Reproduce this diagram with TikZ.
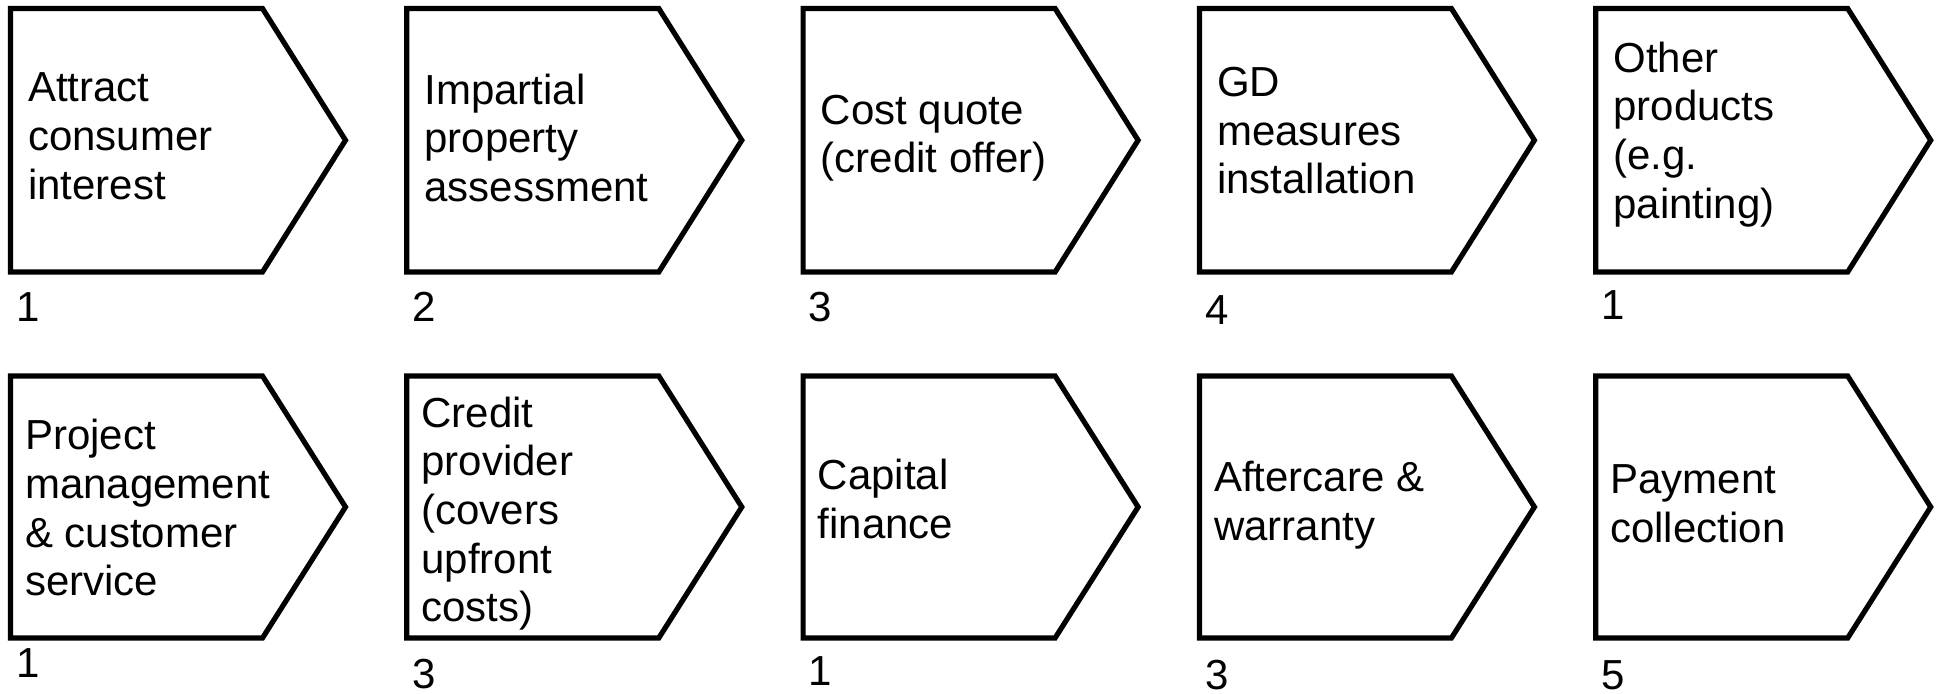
\documentclass[tikz,border=0pt]{standalone}
\usepackage{fontspec}
\setmainfont{Liberation Sans}
\begin{document}
\begin{tikzpicture}[x=0.5pt,y=-0.5pt,line width=2.6pt,
  steptext/.style={anchor=west,inner sep=0pt,align=left,font=\fontsize{21pt}{24.35pt}\selectfont},
  stepnum/.style={anchor=base west,inner sep=0pt,font=\fontsize{21pt}{24.35pt}\selectfont}]

\useasboundingbox (0,0) rectangle (1937,694);

% upper row
\foreach \i/\ty/\ny/\txt/\num in {
  1/136.2/322/{Attract\\consumer\\interest}/1,
  2/137.7/322/{Impartial\\property\\assessment}/2,
  3/138.2/322/{Cost quote\\(credit offer)}/3,
  4/130.7/325/{GD\\measures\\installation}/4,
  5/134.2/320/{Other\\products\\(e.g.\\painting)}/1}
{
  \pgfmathsetmacro\xl{10.5+396.3*(\i-1)}
  \coordinate (TA\i) at (\xl,8.5);
  \coordinate (TB\i) at (\xl+252,8.5);
  \coordinate (TC\i) at (\xl+335,140.25);
  \coordinate (TD\i) at (\xl+252,272);
  \coordinate (TE\i) at (\xl,272);
  \draw (TA\i) -- (TB\i) -- (TC\i) -- (TD\i) -- (TE\i) -- cycle;
  \node[steptext] (top\i) at (\xl+15,\ty) {\txt};
  \node[stepnum] (topnum\i) at (\xl+3,\ny) {\num};
}

% lower row
\foreach \i/\ty/\ny/\txt/\num in {
  1/507.7/677/{Project\\management\\\& customer\\service}/1,
  2/513.6/688/{Credit\\provider\\(covers\\upfront\\costs)}/3,
  3/499.2/685/{Capital\\finance}/1,
  4/505.2/689/{Aftercare \&\\warranty}/3,
  5/503.7/689/{Payment\\collection}/5}
{
  \pgfmathsetmacro\xl{10.5+396.3*(\i-1)}
  \coordinate (BA\i) at (\xl,376);
  \coordinate (BB\i) at (\xl+252,376);
  \coordinate (BC\i) at (\xl+335,507);
  \coordinate (BD\i) at (\xl+252,638);
  \coordinate (BE\i) at (\xl,638);
  \draw (BA\i) -- (BB\i) -- (BC\i) -- (BD\i) -- (BE\i) -- cycle;
  \node[steptext] (bot\i) at (\xl+12,\ty) {\txt};
  \node[stepnum] (botnum\i) at (\xl+3,\ny) {\num};
}

\end{tikzpicture}
\end{document}
